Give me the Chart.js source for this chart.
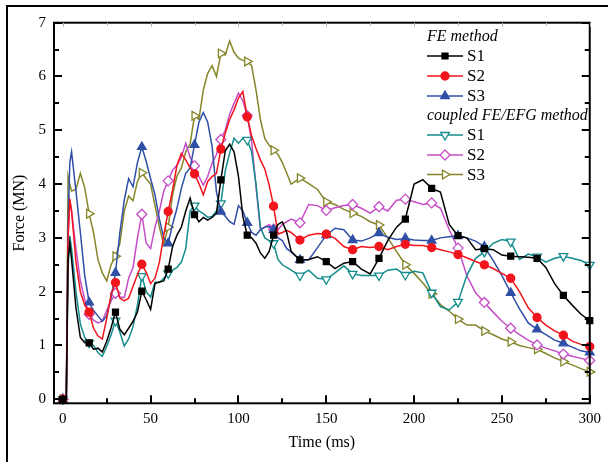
<!DOCTYPE html>
<html>
<head>
<meta charset="utf-8">
<script src="https://cdn.jsdelivr.net/npm/chart.js@4.4.0/dist/chart.umd.min.js"></script>
<style>
  html, body { margin: 0; padding: 0; background: #fff; }
  #wrap { position: relative; width: 608px; height: 462px; }
</style>
</head>
<body>
<div id="wrap"><canvas id="forceChart"></canvas></div>
<script>
// ── Data ────────────────────────────────────────────────────────────
const timeMs = [
  0, 2, 3, 4,
  5, 7.5, 10, 12.5, 15, 17.5, 20, 22.5, 25, 27.5,
  30, 32.5, 35, 37.5, 40, 42.5, 45, 47.5, 50, 52.5, 55, 57.5,
  60, 62.5, 65, 67.5, 70, 72.5, 75, 77.5, 80, 82.5, 85, 87.5,
  90, 92.5, 95, 97.5, 100, 102.5, 105, 107.5, 110, 112.5, 115, 117.5,
  120, 122.5, 125, 127.5, 130,
  135, 140, 145, 150, 155, 160, 165, 170, 175, 180,
  185, 190, 195, 200, 205, 210, 215, 220, 225, 230,
  235, 240, 245, 250, 255, 260, 265, 270, 275, 280, 285, 290, 295, 300
];

// FE method
const feS1 = [
  0, 0, 2.6, 2.9,
  2.6, 1.7, 1.15, 1.05, 1.05, 0.93, 0.95, 0.88, 1.08, 1.33,
  1.62, 1.3, 1.2, 1.32, 1.45, 1.62, 2.01, 1.85, 1.67, 2.15, 2.18, 2.2,
  2.42, 2.84, 3.05, 3.2, 3.5, 3.74, 3.43, 3.3, 3.38, 3.33, 3.38, 3.46,
  4.08, 4.62, 4.74, 4.6, 4.15, 3.4, 3.05, 3.0, 2.9, 2.72, 2.62, 2.75,
  3.05, 3.25, 3.3, 3.1, 2.75,
  2.59, 2.6, 2.65, 2.56, 2.43, 2.53, 2.56, 2.42, 2.33, 2.62,
  2.95, 3.2, 3.35, 4.0, 4.08, 3.92, 3.85, 3.25, 3.04, 3.0,
  2.78, 2.8, 2.78, 2.68, 2.66, 2.65, 2.64, 2.62, 2.45, 2.15, 1.93, 1.75, 1.58, 1.46
];
const feS2 = [
  0, 0, 3.0, 3.72,
  3.5, 2.55, 2.0, 1.75, 1.62, 1.32, 1.18, 1.12, 1.5, 1.95,
  2.17, 1.88, 1.83, 1.88, 2.1, 2.32, 2.51, 2.36, 2.15, 2.25, 2.55, 3.05,
  3.49, 3.89, 4.35, 4.57, 4.45, 4.3, 4.19, 4.01, 3.8, 4.05, 4.14, 4.2,
  4.65, 4.95, 5.2, 5.38, 5.6, 5.72, 5.25, 4.9, 4.66, 4.45, 4.28, 3.98,
  3.59, 3.07, 3.1, 3.14, 3.1,
  2.96, 3.05, 3.08, 3.07, 2.99, 2.84, 2.78, 2.84, 2.82, 2.84,
  2.78, 2.84, 2.88, 2.86, 2.86, 2.82, 2.78, 2.74, 2.69, 2.63,
  2.56, 2.5, 2.43, 2.34, 2.25, 2.0, 1.7, 1.52, 1.38, 1.27, 1.19, 1.08, 1.02, 0.98
];
const feS3 = [
  0, 0, 3.2, 4.4,
  4.6, 3.87, 3.1, 2.3, 1.8, 1.65, 1.55, 1.45, 1.55, 1.9,
  2.35, 3.1, 3.7, 4.1, 3.95, 4.4, 4.69, 4.42, 4.1, 3.8, 3.35, 3.0,
  2.9, 3.25, 3.55, 3.92, 4.2, 4.3, 4.73, 5.15, 5.33, 5.15, 4.7, 3.85,
  3.49, 3.4, 3.3, 3.25, 3.6, 3.5, 3.28, 3.1, 3.05, 3.15, 3.2, 3.21,
  3.15, 3.0, 2.95, 2.8, 2.74,
  2.59, 2.59, 2.82, 3.05, 3.18, 3.15, 2.96, 2.94, 3.0, 3.09,
  3.01, 2.97, 2.99, 2.96, 2.95, 2.95, 3.0, 3.02, 3.04, 3.0,
  2.94, 2.84, 2.58, 2.3, 1.98, 1.68, 1.42, 1.3, 1.2, 1.1, 1.04, 0.97, 0.9, 0.87
];

// coupled FE/EFG method
const efgS1 = [
  0, 0, 2.4, 3.04,
  2.8, 2.0, 1.4, 1.15, 1.05, 1.0, 0.87, 0.8, 0.98, 1.2,
  1.46, 1.25, 0.99, 1.12, 1.35, 1.75, 2.29, 2.0, 1.9, 2.18, 2.17, 2.25,
  2.34, 2.4, 2.45, 2.55, 2.8, 3.5, 3.6, 3.5, 3.45, 3.38, 3.4, 3.5,
  3.64, 4.25, 4.58, 4.85, 4.76, 4.85, 4.82, 4.6, 4.0, 3.2, 3.0, 2.95,
  2.9, 2.6, 2.5, 2.45, 2.4,
  2.3, 2.4, 2.25, 2.23, 2.35, 2.48, 2.33, 2.3, 2.3, 2.3,
  2.4, 2.42, 2.31, 2.38, 2.35, 1.98, 1.72, 1.66, 1.81, 2.3,
  2.62, 2.74, 2.9, 2.97, 2.93, 2.6, 2.7, 2.65, 2.55, 2.62, 2.66, 2.62, 2.58, 2.5
];
const efgS2 = [
  0, 0, 3.0, 3.69,
  3.5, 2.8, 2.2, 1.85, 1.58, 1.47, 1.42, 1.45, 1.65, 1.83,
  1.97, 1.9, 1.89, 2.25, 2.45, 3.0, 3.44, 2.9, 2.8, 3.2, 3.5, 3.87,
  4.06, 4.26, 4.35, 4.5, 4.76, 4.5, 4.34, 4.14, 3.98, 4.14, 4.39, 4.55,
  4.83, 5.0, 5.3, 5.5, 5.69, 5.55, 5.27, 4.8, 3.95, 3.15, 3.2, 3.25,
  3.16, 3.15, 3.25, 3.3, 3.35,
  3.28, 3.62, 3.6, 3.51, 3.56, 3.6, 3.62, 3.55, 3.46, 3.58,
  3.5, 3.7, 3.72, 3.67, 3.62, 3.65, 3.55, 3.15, 2.81, 2.3,
  1.98, 1.8, 1.62, 1.45, 1.32, 1.2, 1.1, 1.01, 0.95, 0.9, 0.84, 0.8, 0.76, 0.72
];
const efgS3 = [
  0, 0, 4.15, 4.0,
  3.87, 3.9, 4.2, 3.93, 3.45, 3.1, 2.6, 2.35, 2.2, 2.5,
  2.66, 2.9, 3.5, 3.78, 3.69, 4.05, 4.21, 4.1, 4.0, 3.6, 3.2, 2.88,
  3.2, 3.8, 4.15, 4.3, 4.6, 4.75, 5.27, 5.2, 5.75, 6.06, 6.2, 6.0,
  6.43, 6.4, 6.66, 6.45, 6.34, 6.3, 6.28, 6.2, 5.75, 5.2, 4.85, 4.72,
  4.63, 4.55, 4.4, 4.2, 4.0,
  4.11, 4.01, 3.9, 3.67, 3.62, 3.53, 3.46, 3.4, 3.3, 3.24,
  3.0, 2.75, 2.5, 2.34, 2.16, 1.96, 1.76, 1.64, 1.49, 1.38,
  1.38, 1.27, 1.2, 1.12, 1.07, 1.0, 0.96, 0.93, 0.85, 0.77, 0.70, 0.64, 0.57, 0.51
];

const xTicks = [0, 50, 100, 150, 200, 250, 300];
const yTicks = [0, 1, 2, 3, 4, 5, 6, 7];
const markerEvery = 15; // ms between plotted symbols

// ── Series styling ──────────────────────────────────────────────────
const FONT = "'Liberation Serif', 'Times New Roman', serif";

const series = [
  { group: 'FE method', label: 'S1', data: feS1, color: '#000000', style: 'rect',     rot: 0,   r: 4.2, open: false },
  { group: 'FE method', label: 'S2', data: feS2, color: '#f2141c', style: 'circle',   rot: 0,   r: 4,   open: false },
  { group: 'FE method', label: 'S3', data: feS3, color: '#2f4fa6', style: 'triangle', rot: 0,   r: 5,   open: false },
  { group: 'coupled FE/EFG method', label: 'S1', data: efgS1, color: '#148c8c', style: 'triangle', rot: 180, r: 5, open: true },
  { group: 'coupled FE/EFG method', label: 'S2', data: efgS2, color: '#c64cc6', style: 'rectRot',  rot: 0,   r: 5, open: true },
  { group: 'coupled FE/EFG method', label: 'S3', data: efgS3, color: '#85852a', style: 'triangle', rot: 90,  r: 5, open: true },
];

const datasets = series.map(s => ({
  label: s.group + ' ' + s.label,
  data: timeMs.map((t, i) => ({ x: t, y: s.data[i] })),
  borderColor: s.color,
  borderWidth: 1.5,
  tension: 0,
  fill: false,
  clip: false,
  pointStyle: s.style,
  pointRotation: s.rot,
  pointBackgroundColor: s.open ? '#ffffff' : s.color,
  pointBorderColor: s.color,
  pointBorderWidth: 1.3,
  pointRadius: ctx => (ctx.raw && ctx.raw.x % markerEvery === 0 ? s.r : 0),
  pointHoverRadius: 0,
}));

// Simple marker painter for the legend keys
function drawMarker(ctx, s, cx, cy) {
  ctx.save();
  ctx.translate(cx, cy);
  ctx.rotate(s.rot * Math.PI / 180);
  ctx.beginPath();
  const r = s.r;
  if (s.style === 'rect') {
    const h = r * Math.SQRT1_2;
    ctx.rect(-h, -h, 2 * h, 2 * h);
  } else if (s.style === 'circle') {
    ctx.arc(0, 0, r, 0, Math.PI * 2);
  } else if (s.style === 'rectRot') {
    ctx.moveTo(0, -r); ctx.lineTo(r, 0); ctx.lineTo(0, r); ctx.lineTo(-r, 0); ctx.closePath();
  } else {
    const side = r * 3 / Math.sqrt(3);
    const h = side * Math.sqrt(3) / 2;
    ctx.moveTo(-side / 2, h / 3); ctx.lineTo(side / 2, h / 3); ctx.lineTo(0, -2 * h / 3); ctx.closePath();
  }
  ctx.fillStyle = s.open ? '#ffffff' : s.color;
  ctx.strokeStyle = s.color;
  ctx.lineWidth = 1.3;
  ctx.fill();
  ctx.stroke();
  ctx.restore();
}

// ── Frame, inward ticks, titles and legend ──────────────────────────
const decorations = {
  id: 'decorations',
  beforeDraw(chart) {
    const { ctx, width, height } = chart;
    ctx.save();
    ctx.strokeStyle = '#000';
    ctx.lineWidth = 2;
    ctx.beginPath();
    ctx.moveTo(7, height);
    ctx.lineTo(7, 6);
    ctx.lineTo(width, 6);
    ctx.stroke();
    ctx.restore();
  },
  afterDatasetsDraw(chart) {
    const { ctx, chartArea: a, scales: { x, y } } = chart;
    ctx.save();
    ctx.strokeStyle = '#000';
    ctx.lineWidth = 2;
    ctx.strokeRect(a.left, a.top, a.right - a.left, a.bottom - a.top);

    ctx.beginPath();
    for (let v = 0; v <= 7; v += 0.5) {
      const py = Math.round(y.getPixelForValue(v));
      const len = Number.isInteger(v) ? 8 : 5;
      ctx.moveTo(a.left, py);  ctx.lineTo(a.left + len, py);
      ctx.moveTo(a.right, py); ctx.lineTo(a.right - len, py);
    }
    for (let t = 0; t <= 300; t += 25) {
      const px = Math.round(x.getPixelForValue(t));
      const len = t % 50 === 0 ? 8 : 5;
      ctx.moveTo(px, a.bottom); ctx.lineTo(px, a.bottom - len);
    }
    ctx.stroke();

    // faint ticks along the top edge
    ctx.strokeStyle = '#b0b0b0';
    ctx.lineWidth = 1;
    ctx.beginPath();
    for (let t = 0; t <= 300; t += 25) {
      const px = Math.round(x.getPixelForValue(t)) + 0.5;
      ctx.moveTo(px, a.top); ctx.lineTo(px, a.top + (t % 50 === 0 ? 4 : 3));
    }
    ctx.stroke();
    ctx.restore();
  },
  afterDraw(chart) {
    const { ctx, chartArea: a } = chart;
    ctx.save();
    ctx.fillStyle = '#000';

    // axis titles
    ctx.font = '16px ' + FONT;
    ctx.textAlign = 'center';
    ctx.textBaseline = 'middle';
    ctx.fillText('Time (ms)', (a.left + a.right) / 2, 443);
    ctx.save();
    ctx.translate(20, (a.top + a.bottom) / 2);
    ctx.rotate(-Math.PI / 2);
    ctx.fillText('Force (MN)', 0, 0);
    ctx.restore();

    // legend: two headed groups of three entries
    const keyLeft = 427, keyRight = 463, textX = 467;
    const rows = [36.5, 56, 76, 96, 115.5, 135, 155, 174.5];
    ctx.textAlign = 'left';
    let row = 0;
    let lastGroup = null;
    series.forEach(s => {
      if (s.group !== lastGroup) {
        ctx.font = 'italic 16px ' + FONT;
        ctx.fillStyle = '#000';
        ctx.fillText(s.group, keyLeft, rows[row++]);
        lastGroup = s.group;
      }
      const ry = rows[row++];
      ctx.strokeStyle = s.color;
      ctx.lineWidth = 1.5;
      ctx.beginPath();
      ctx.moveTo(keyLeft, ry);
      ctx.lineTo(keyRight, ry);
      ctx.stroke();
      drawMarker(ctx, s, (keyLeft + keyRight) / 2, ry);
      ctx.font = '17px ' + FONT;
      ctx.fillStyle = '#000';
      ctx.fillText(s.label, textX, ry + 1);
    });
    ctx.restore();
  },
};

new Chart(document.getElementById('forceChart'), {
  type: 'line',
  data: { datasets },
  options: {
    responsive: true,
    maintainAspectRatio: false,
    animation: false,
    events: [],
    layout: { padding: { top: 22.7, right: 14.7, left: 0, bottom: 0 } },
    plugins: { legend: { display: false }, tooltip: { enabled: false } },
    scales: {
      x: {
        type: 'linear',
        min: -5,
        max: 300,
        afterFit: scale => { scale.height = 58.7; },
        afterBuildTicks: scale => { scale.ticks = xTicks.map(v => ({ value: v })); },
        grid: { display: false, drawTicks: false },
        border: { display: false },
        ticks: { color: '#000', padding: 7, maxRotation: 0, font: { family: FONT, size: 15 } },
      },
      y: {
        type: 'linear',
        min: -0.075,
        max: 7,
        afterFit: scale => { scale.width = 54; },
        afterBuildTicks: scale => { scale.ticks = yTicks.map(v => ({ value: v })); },
        grid: { display: false, drawTicks: false },
        border: { display: false },
        ticks: { color: '#000', padding: 8, font: { family: FONT, size: 15 } },
      },
    },
  },
  plugins: [decorations],
});
</script>
</body>
</html>
